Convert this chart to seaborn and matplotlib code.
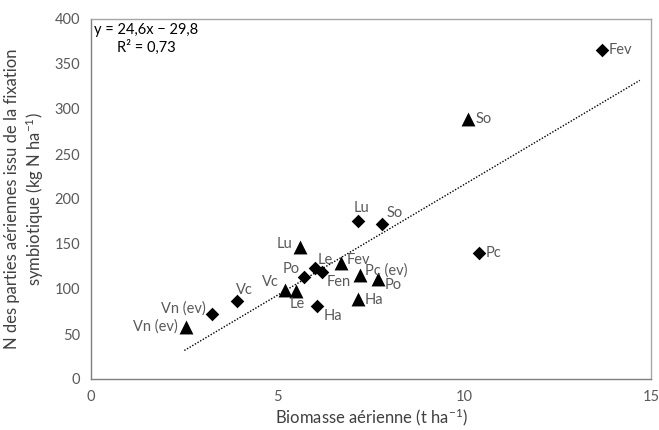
import matplotlib
matplotlib.use("Agg")
import matplotlib.pyplot as plt
import seaborn as sns
import pandas as pd

# ---------------- data ----------------
tri_labels = ["Vn (ev)", "Vc", "Le", "Lu", "Fev", "Pc (ev)", "Po", "Ha", "So"]
tri_x = [2.55, 5.2, 5.5, 5.6, 6.7, 7.2, 7.7, 7.15, 10.1]
tri_y = [58, 99, 98, 147, 129, 116, 111, 89, 289]

dia_labels = ["Vn (ev)", "Vc", "Po", "Le", "Fen", "Ha", "Lu", "So", "Pc", "Fev"]
dia_x = [3.25, 3.9, 5.7, 6.0, 6.2, 6.05, 7.15, 7.8, 10.4, 13.7]
dia_y = [72, 87, 113, 123, 119, 81, 175, 172, 140, 365]

slope = 24.6
intercept = -29.8
r_squared = 0.73
trend_x = [2.5, 14.7]

x_ticks = [0, 5, 10, 15]
y_ticks = [0, 50, 100, 150, 200, 250, 300, 350, 400]

x_label = "Biomasse aérienne (t ha$^{-1}$)"
y_label = "N des parties aériennes issu de la fixation\nsymbiotique (kg N ha$^{-1}$)"

# ---------------- label placement (pixels offsets, alignment) ----------------
tri_label_pos = [(-8, 0, "right"), (-6, 8, "right"), (1, -13, "center"),
                 (-8, 3, "right"), (5, 3, "left"), (5, 4, "left"),
                 (6, -6, "left"), (7, -1, "left"), (7, 0, "left")]
dia_label_pos = [(-7, 6, "right"), (8, 11, "center"), (-4, 8, "right"),
                 (10, 8, "center"), (4, -10, "left"), (7, -10, "left"),
                 (4, 13, "center"), (12, 11, "center"), (6, 0, "left"),
                 (6, 0, "left")]

# ---------------- style ----------------
sns.set_style("white")
plt.rcParams["font.family"] = ["Lato", "DejaVu Sans"]
plt.rcParams["mathtext.fontset"] = "custom"
plt.rcParams["mathtext.rm"] = "Lato"
plt.rcParams["mathtext.it"] = "Lato:italic"

fig = plt.figure(figsize=(6.59, 4.30), dpi=100)
ax = fig.add_axes([91 / 659, (430 - 379) / 430, 560 / 659, 360 / 430])

tri_df = pd.DataFrame({"x": tri_x, "y": tri_y, "label": tri_labels})
dia_df = pd.DataFrame({"x": dia_x, "y": dia_y, "label": dia_labels})

sns.scatterplot(data=tri_df, x="x", y="y", marker="^", s=100, color="black",
                edgecolor="black", linewidth=0, ax=ax, zorder=3)
sns.scatterplot(data=dia_df, x="x", y="y", marker="D", s=48, color="black",
                edgecolor="black", linewidth=0, ax=ax, zorder=3)

# trend line
tx = pd.Series(trend_x)
ax.plot(tx, slope * tx + intercept, color="black", lw=1.0,
        linestyle=(0, (1, 1.2)), zorder=2)

label_color = "#595959"
for df, pos in ((tri_df, tri_label_pos), (dia_df, dia_label_pos)):
    for (_, r), (dx, dy, ha) in zip(df.iterrows(), pos):
        ax.annotate(r["label"], (r["x"], r["y"]), xytext=(dx, dy),
                    textcoords="offset pixels", ha=ha, va="center",
                    fontsize=10.5, color=label_color)

eq = "y = 24,6x \u2212 29,8\nR\u00b2 = 0,73"
ax.text(55 / 560, (379 - 39) / 360, eq, transform=ax.transAxes,
        ha="center", va="center", multialignment="center",
        fontsize=10.5, color="black", linespacing=1.25)

ax.set_xlim(0, 15)
ax.set_ylim(0, 400)
ax.set_xticks(x_ticks)
ax.set_yticks(y_ticks)
ax.set_xlabel(x_label, fontsize=12, color="#404040", labelpad=2)
ax.set_ylabel(y_label, fontsize=12, color="#404040", labelpad=6,
              multialignment="center")

for side in ("left", "bottom"):
    ax.spines[side].set_color("#7f7f7f")
    ax.spines[side].set_linewidth(1.0)
for side in ("top", "right"):
    ax.spines[side].set_color("#a6a6a6")
    ax.spines[side].set_linewidth(1.0)
    ax.spines[side].set_visible(True)

ax.tick_params(axis="both", direction="out", length=5, width=1,
               color="#7f7f7f", labelcolor="#595959", labelsize=10.5)
ax.tick_params(axis="x", pad=3)
ax.tick_params(axis="y", pad=3)

fig.savefig("out.png", dpi=100)
